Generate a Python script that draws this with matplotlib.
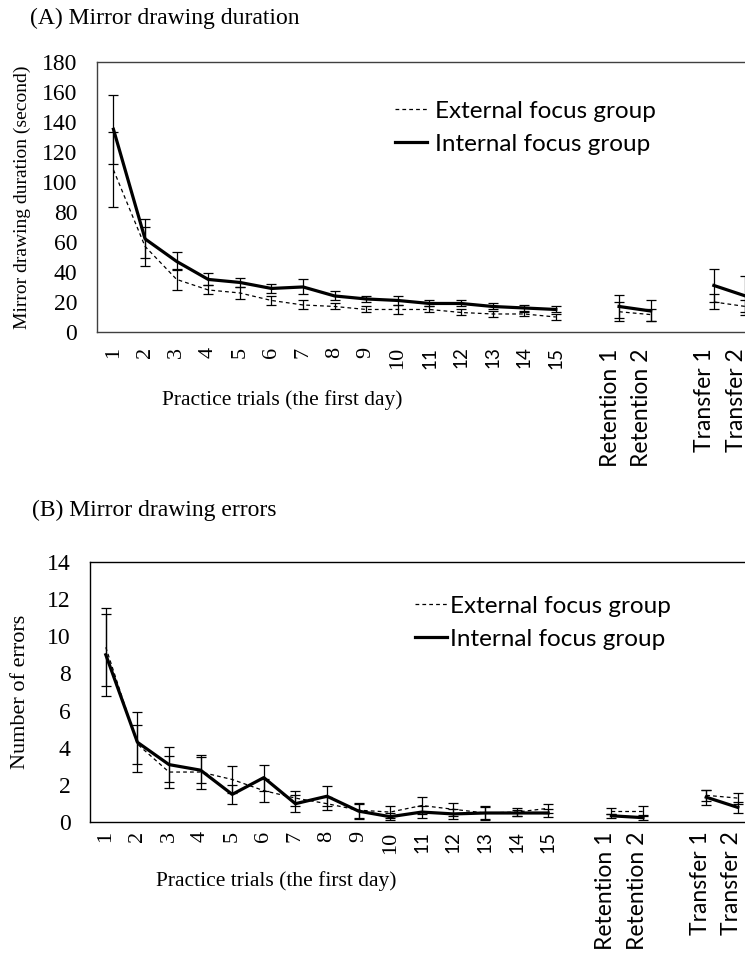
import numpy as np
import matplotlib.pyplot as plt
import matplotlib.transforms as mtransforms
from matplotlib.lines import Line2D

plt.rcParams['font.family'] = 'Liberation Serif'

# Категории (ось X): 15 попыток, 2 ретенции, 2 переноса
trial_labels = [str(i) for i in range(1, 16)] + ['Retention 1', 'Retention 2', 'Transfer 1', 'Transfer 2']
trial_pos = list(range(1, 16)) + [17, 18, 20, 21]
segments = [(0, 15), (15, 17), (17, 19)]

# (A) длительность, сек
dur_ext = [108, 57, 35, 28, 26, 21, 18, 17, 15, 15, 15, 13, 12, 12, 10, 13.5, 11.6, 20, 17]
dur_ext_err = [25, 13, 7, 3, 4, 3, 3, 2, 2, 3, 2, 2, 2, 1.5, 2, 6.5, 4, 5, 4]
dur_int = [135, 62, 47, 35, 33, 29, 30, 24, 22, 21, 19, 19, 17, 16, 15, 17, 14, 31, 24]
dur_int_err = [23, 13, 6, 4, 3, 3, 5, 3, 2, 3, 2, 2, 2, 2, 2, 7.6, 7, 11, 13]

# (B) число ошибок
err_ext = [9.4, 4.2, 2.7, 2.7, 2.3, 1.7, 1.3, 1.0, 0.65, 0.55, 0.9, 0.7, 0.5, 0.55, 0.75, 0.6, 0.6, 1.45, 1.3]
err_ext_err = [2.1, 1.05, 0.85, 0.9, 0.7, 0.6, 0.4, 0.35, 0.4, 0.3, 0.45, 0.35, 0.35, 0.2, 0.25, 0.15, 0.25, 0.3, 0.3]
err_int = [9.0, 4.3, 3.1, 2.8, 1.5, 2.4, 1.0, 1.4, 0.6, 0.3, 0.55, 0.45, 0.5, 0.5, 0.5, 0.35, 0.25, 1.35, 0.8]
err_int_err = [2.2, 1.6, 0.95, 0.7, 0.5, 0.7, 0.46, 0.55, 0.4, 0.2, 0.3, 0.25, 0.3, 0.15, 0.2, 0.1, 0.15, 0.4, 0.3]

W, H = 745, 966
DASH = (0, (3, 2.5))
SANS = 'Lato'


def draw_panel(ax, ext, ext_e, intr, intr_e, ymax, ystep, tick_pad, sans_dx, sans_dy, frame_color):
    x = np.array(trial_pos, dtype=float)
    for a, b in segments:
        ax.errorbar(x[a:b], ext[a:b], yerr=ext_e[a:b], color='black', ls=DASH, lw=0.9,
                    elinewidth=0.9, capsize=3.5, capthick=0.9)
        ax.errorbar(x[a:b], intr[a:b], yerr=intr_e[a:b], color='black', lw=2.3,
                    elinewidth=0.9, capsize=3.5, capthick=0.9)
    ax.set_ylim(0, ymax)
    ax.set_yticks(np.arange(0, ymax + 1, ystep))
    ax.set_xticks(trial_pos)
    ax.set_xticklabels(trial_labels, rotation=90)
    ax.tick_params(axis='y', length=0, pad=14, labelsize=17)
    ax.tick_params(axis='x', length=0, pad=tick_pad, labelsize=16)
    for lab in ax.get_xticklabels():
        txt = lab.get_text()
        if txt.isdigit() and int(txt) > 10:
            lab.set_fontfamily(SANS)
            lab.set_fontsize(13.5)
        elif not txt.isdigit():
            lab.set_fontfamily(SANS)
            lab.set_fontsize(16.5)
            off = mtransforms.ScaledTranslation(sans_dx / 100, sans_dy / 100, ax.figure.dpi_scale_trans)
            lab.set_transform(lab.get_transform() + off)
    for s in ['top', 'left', 'bottom']:
        ax.spines[s].set_color(frame_color)
        ax.spines[s].set_linewidth(1.0)
    ax.spines['right'].set_visible(False)

    handles = [Line2D([], [], color='black', ls=DASH, lw=0.9),
               Line2D([], [], color='black', lw=2.3)]
    return handles


fig = plt.figure(figsize=(W / 100, H / 100), dpi=100)

# (A)
ax1_w = (21.5 - 0.47) * 31.6
ax1 = fig.add_axes([96.7 / W, 1 - 332 / H, ax1_w / W, 270.3 / H])
ax1.set_xlim(0.47, 21.5)
h = draw_panel(ax1, dur_ext, dur_ext_err, dur_int, dur_int_err, 180, 20, 10.5, -9, -2, '#404040')
ax1.set_ylabel('Mirror drawing duration (second)', fontsize=14, labelpad=8)
ax1.legend(h, ['External focus group', 'Internal focus group'], loc='upper left',
           bbox_to_anchor=((395 - 96.7) / ax1_w, 0.856), frameon=False,
           prop={'family': SANS, 'size': 17.5}, handlelength=1.3, handletextpad=0.33,
           labelspacing=0.49, borderpad=0, borderaxespad=0)

# (B)
ax2_w = 21 * 31.6
ax2 = fig.add_axes([90 / W, 1 - 822.3 / H, ax2_w / W, 260.6 / H])
ax2.set_xlim(0.5, 21.5)
h = draw_panel(ax2, err_ext, err_ext_err, err_int, err_int_err, 14, 2, 6.5, -6, 0, 'black')
ax2.set_ylabel('Number of errors', fontsize=16, labelpad=12)
ax2.legend(h, ['External focus group', 'Internal focus group'], loc='upper left',
           bbox_to_anchor=((415 - 90) / ax2_w, 0.870), frameon=False,
           prop={'family': SANS, 'size': 17.5}, handlelength=1.3, handletextpad=0.15,
           labelspacing=0.49, borderpad=0, borderaxespad=0)

fig.text(30 / W, 1 - 18 / H, '(A) Mirror drawing duration', fontsize=17, va='center', ha='left')
fig.text(32 / W, 1 - 510 / H, '(B) Mirror drawing errors', fontsize=17, va='center', ha='left')
fig.text(282 / W, 1 - 400 / H, 'Practice trials (the first day)', fontsize=15.5, va='center', ha='center')
fig.text(276 / W, 1 - 881 / H, 'Practice trials (the first day)', fontsize=15.5, va='center', ha='center')

fig.savefig('out.png', dpi=100)
